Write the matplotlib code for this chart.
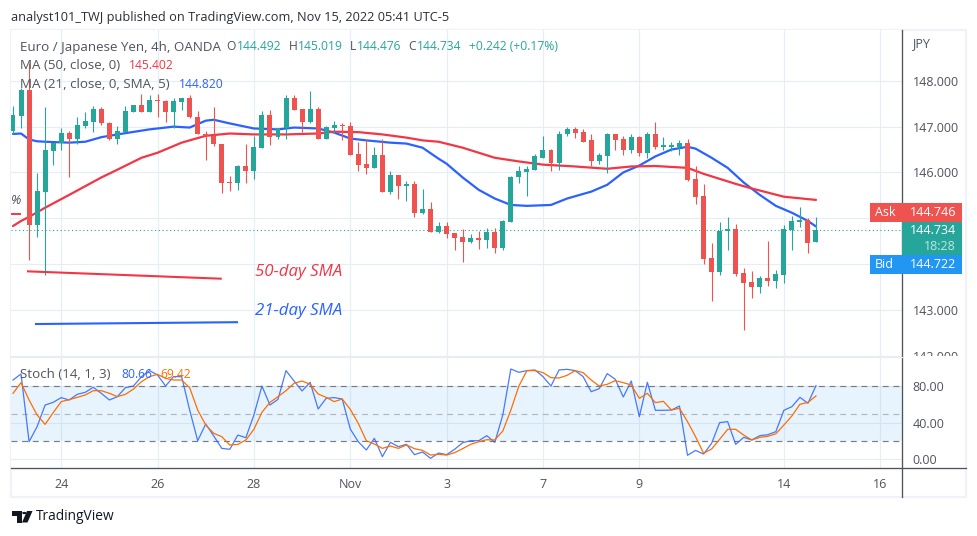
import matplotlib
matplotlib.use('Agg')
from matplotlib import pyplot as plt
from matplotlib.lines import Line2D
from matplotlib.patches import Rectangle, Polygon, Circle
from matplotlib.transforms import Bbox

plt.rcParams['font.family'] = ['Open Sans', 'DejaVu Sans']

# 4h candles
opens = [146.91, 147.24, 147.81, 144.86, 145.58, 146.46, 146.65, 146.87, 146.72, 147.02,
         147.11, 147.39, 147.09, 146.72, 146.89, 147.33, 147.48, 147.33, 147.59, 147.57,
         147.33, 147.53, 147.63, 147.22, 146.85, 146.80, 146.63, 145.80, 145.76, 146.13,
         146.04, 146.54, 147.26, 146.78, 146.96, 147.63, 147.39, 147.11, 147.39, 146.74,
         146.98, 147.04, 147.02, 146.41, 146.19, 146.10, 146.37, 145.58, 145.95, 145.71,
         145.75, 145.12, 145.21, 144.70, 144.83, 144.68, 144.59, 144.48, 144.57, 144.53,
         144.70, 144.35, 144.92, 145.89, 146.02, 146.06, 146.32, 146.50, 146.21, 146.83,
         146.94, 146.89, 146.70, 146.26, 146.35, 146.83, 146.72, 146.50, 146.78, 146.43,
         146.85, 146.56, 146.56, 146.56, 146.65, 145.86, 145.49, 144.13, 143.83, 144.72,
         144.77, 143.80, 143.61, 143.50, 143.70, 143.63, 143.76, 144.75, 144.92, 144.97,
         144.48]
highs = [147.46, 147.85, 148.40, 145.99, 147.42, 146.65, 146.98, 146.91, 147.20, 147.31,
         147.44, 147.42, 147.11, 147.02, 147.46, 147.48, 147.72, 147.70, 147.72, 147.59,
         147.63, 147.63, 147.70, 147.35, 146.91, 147.42, 146.63, 145.93, 146.17, 146.61,
         146.80, 147.35, 147.37, 146.98, 147.68, 147.68, 147.39, 147.77, 147.42, 147.02,
         147.13, 147.09, 147.11, 146.67, 146.74, 146.56, 146.74, 146.04, 145.95, 145.82,
         145.82, 145.64, 145.36, 144.92, 144.92, 144.68, 144.77, 144.66, 144.72, 144.79,
         144.79, 144.97, 145.93, 146.15, 146.15, 146.41, 146.80, 146.52, 146.91, 147.00,
         147.00, 146.94, 146.83, 146.43, 146.87, 146.83, 146.80, 146.83, 146.80, 146.89,
         147.11, 146.78, 146.67, 146.70, 146.74, 146.15, 145.75, 144.46, 144.92, 145.03,
         144.88, 143.91, 143.85, 143.74, 144.51, 143.87, 144.86, 145.05, 145.25, 145.01,
         145.02]
lows = [146.85, 146.98, 144.09, 144.59, 143.76, 146.17, 146.50, 145.91, 146.61, 146.96,
        146.89, 147.04, 146.70, 146.63, 146.89, 147.33, 147.33, 147.33, 147.20, 147.11,
        146.98, 147.37, 147.18, 146.83, 146.28, 146.57, 145.56, 145.60, 145.62, 145.78,
        145.86, 146.54, 146.59, 146.72, 146.74, 147.37, 146.89, 147.09, 146.74, 146.72,
        146.87, 146.70, 146.39, 146.04, 145.97, 146.10, 145.58, 145.53, 145.43, 145.38,
        145.03, 145.10, 144.70, 144.68, 144.57, 144.31, 144.05, 144.46, 144.33, 144.35,
        144.24, 144.31, 144.92, 145.78, 145.49, 146.06, 146.32, 146.04, 146.06, 146.80,
        146.76, 146.67, 146.13, 146.19, 145.99, 146.48, 146.37, 146.43, 146.35, 146.32,
        146.52, 146.50, 146.46, 146.39, 145.82, 145.32, 144.00, 143.20, 143.76, 144.31,
        143.74, 142.56, 143.26, 143.37, 143.52, 143.48, 143.59, 144.31, 144.81, 144.24,
        144.48]
closes = [147.26, 147.81, 144.86, 145.60, 146.48, 146.65, 146.87, 146.72, 147.04, 147.13,
          147.39, 147.07, 146.72, 146.91, 147.35, 147.48, 147.33, 147.59, 147.55, 147.33,
          147.55, 147.63, 147.20, 146.83, 146.80, 146.61, 145.78, 145.76, 146.13, 146.04,
          146.56, 147.26, 146.78, 146.96, 147.63, 147.37, 147.11, 147.39, 146.74, 147.00,
          147.04, 147.02, 146.39, 146.17, 146.10, 146.37, 145.58, 145.95, 145.71, 145.75,
          145.12, 145.21, 144.70, 144.83, 144.66, 144.57, 144.48, 144.57, 144.53, 144.70,
          144.35, 144.94, 145.91, 146.04, 146.08, 146.35, 146.50, 146.21, 146.85, 146.94,
          146.87, 146.67, 146.26, 146.37, 146.83, 146.70, 146.50, 146.78, 146.43, 146.85,
          146.56, 146.59, 146.59, 146.65, 145.84, 145.47, 144.11, 143.83, 144.72, 144.77,
          143.78, 143.59, 143.50, 143.70, 143.63, 143.78, 144.77, 144.94, 144.97, 144.46,
          144.734]

# moving averages, sampled at some bars only
ma21_bars = [0, 1, 2, 3, 4, 7, 9, 11, 13, 17, 20, 22, 24, 25, 27, 30, 33, 35, 38, 40, 42, 44,
             47, 49, 51, 53, 54, 56, 58, 60, 62, 64, 67, 69, 72, 74, 76, 78, 80, 82, 84, 85,
             87, 89, 91, 93, 95, 97, 99, 100]
ma21_vals = [146.84, 146.85, 146.72, 146.68, 146.67, 146.65, 146.67, 146.77, 146.83, 146.94,
             147.00, 146.98, 147.13, 147.15, 147.07, 146.96, 146.94, 146.98, 146.96, 146.87,
             146.74, 146.70, 146.65, 146.63, 146.54, 146.30, 146.19, 145.89, 145.62, 145.43,
             145.29, 145.27, 145.29, 145.43, 145.58, 145.73, 146.00, 146.15, 146.35, 146.50,
             146.56, 146.52, 146.32, 146.10, 145.78, 145.51, 145.27, 145.12, 144.94, 144.82]
ma50_bars = [0, 1, 2, 4, 7, 11, 13, 16, 18, 21, 24, 27, 30, 34, 38, 40, 43, 46, 49, 51, 53, 56,
             60, 63, 66, 70, 74, 77, 80, 84, 86, 88, 90, 92, 94, 96, 100]
ma50_vals = [144.83, 144.94, 145.03, 145.23, 145.51, 145.89, 146.06, 146.32, 146.43, 146.65,
             146.80, 146.85, 146.83, 146.83, 146.85, 146.89, 146.88, 146.83, 146.76, 146.70,
             146.67, 146.54, 146.32, 146.24, 146.17, 146.13, 146.08, 146.13, 146.14, 146.10,
             145.97, 145.86, 145.75, 145.65, 145.56, 145.47, 145.40]

# stochastic
stoch_k = [86.9, 93.5, 19.3, 35.8, 59.5, 62.4, 67.6, 65.0, 71.2, 73.4, 78.9, 72.3, 65.0, 68.7,
           78.5, 80.3, 90.6, 97.2, 92.4, 80.3, 90.6, 90.6, 54.0, 20.4, 38.7, 25.6, 12.0, 11.0,
           26.6, 23.7, 48.6, 80.3, 59.5, 65.7, 97.2, 85.8, 74.9, 84.4, 55.1, 66.8, 67.6, 66.1,
           33.2, 19.3, 10.2, 23.0, 2.9, 18.6, 13.9, 16.4, 5.1, 8.0, 1.1, 6.9, 5.1, 11.0, 18.2,
           20.4, 20.4, 25.9, 18.6, 48.6, 99.0, 95.3, 97.2, 97.9, 90.6, 80.3, 97.9, 98.6, 97.2,
           90.6, 74.1, 77.4, 93.9, 87.7, 68.3, 85.8, 46.7, 84.4, 53.7, 53.7, 54.0, 58.4, 4.4,
           9.8, 5.8, 17.5, 40.2, 41.3, 16.4, 24.1, 21.2, 25.9, 27.0, 30.3, 53.7, 57.7, 67.9,
           61.4, 80.66]
stoch_d = [72.3, 84.0, 65.0, 48.6, 38.3, 51.1, 63.2, 65.4, 67.9, 70.5, 75.2, 75.2, 72.3, 68.7,
           71.2, 77.0, 85.1, 90.6, 93.1, 88.7, 86.9, 86.9, 78.5, 54.0, 37.6, 28.5, 24.8, 15.7,
           16.4, 21.2, 32.9, 51.5, 62.4, 68.7, 75.2, 83.3, 85.8, 82.2, 71.6, 67.9, 63.2, 66.1,
           54.8, 39.4, 20.4, 16.8, 12.0, 14.6, 12.0, 15.7, 11.7, 9.8, 4.7, 5.5, 4.7, 7.3, 11.7,
           16.4, 19.3, 21.5, 21.2, 31.0, 54.0, 80.3, 97.2, 97.2, 95.0, 89.5, 89.1, 92.0, 97.2,
           95.0, 86.9, 80.3, 82.2, 86.2, 84.0, 81.4, 66.8, 72.3, 62.1, 63.5, 54.0, 55.9, 41.3,
           24.8, 6.6, 11.3, 21.9, 32.9, 32.9, 26.6, 21.2, 24.1, 25.2, 28.0, 37.6, 47.5, 60.3,
           62.4, 69.42]

# hand drawn trend lines
line50_bars = [1.87, 25.87]
line50_vals = [143.84, 143.68]
line21_bars = [2.86, 27.9]
line21_vals = [142.69, 142.73]

# 144 and 145 sit behind the Ask/Bid boxes, so they have gridlines but no label
price_ticks = [142, 143, 144, 145, 146, 147, 148]
price_labels = ['142.000', '143.000', '', '', '146.000', '147.000', '148.000']
stoch_ticks = [0, 40, 80]
stoch_labels = ['0.00', '40.00', '80.00']
date_bars = [6, 18, 30, 42, 54, 66, 78, 96, 108]
date_labels = ['24', '26', '28', 'Nov', '3', '7', '9', '14', '16']

last_price = 144.734

W, H = 977, 536
GREEN = '#26a69a'
RED = '#ef5350'
MA_RED = '#f23645'
BLUE = '#2962ff'
ORANGE = '#ff6d00'
GRID = '#e6eef5'
TEXT = '#50535e'
AXIS = '#50535e'
FRAME = '#eff2f6'


def px_rect(left, top, right, bottom):
    return [left / W, 1 - bottom / H, (right - left) / W, (bottom - top) / H]


def label(x, y, s, color=TEXT, size=9.6, ha='left', **kw):
    return fig.text(x / W, 1 - y / H, s, color=color, fontsize=size, ha=ha, va='center', **kw)


def fig_line(x0, y0, x1, y1, color, lw):
    fig.add_artist(Line2D([x0 / W, x1 / W], [1 - y0 / H, 1 - y1 / H], color=color, lw=lw,
                          transform=fig.transFigure, zorder=5))


fig = plt.figure(figsize=(W / 100, H / 100), dpi=100, facecolor='white')

# light frame around the chart
fig.add_artist(Rectangle((10.5 / W, 1 - 497 / H), 955.5 / W, 467 / H, transform=fig.transFigure,
                         fill=False, ec=FRAME, lw=1.6, zorder=0))

price = fig.add_axes(px_rect(11, 30, 901.5, 357), facecolor='white')
stoch = fig.add_axes(px_rect(11, 357, 901.5, 468), facecolor='white')

bars = list(range(len(closes)))

for ax in (price, stoch):
    ax.set_xlim(-0.25, 110.65)
    for spine in ax.spines.values():
        spine.set_visible(False)
    ax.set_xticks(date_bars)
    ax.grid(True, color=GRID, lw=0.85)
    ax.set_axisbelow(True)

# price panel
price.set_ylim(141.97, 149.11)
price.plot(ma21_bars, ma21_vals, color=BLUE, lw=1.6, zorder=2, solid_capstyle='round')
price.plot(ma50_bars, ma50_vals, color=MA_RED, lw=1.6, zorder=2, solid_capstyle='round')
colors = [GREEN if c >= o else RED for o, c in zip(opens, closes)]
price.vlines(bars, lows, highs, colors=colors, lw=0.8, zorder=3)
price.bar(bars, [abs(c - o) for o, c in zip(opens, closes)],
          bottom=[min(o, c) for o, c in zip(opens, closes)],
          width=0.62, color=colors, lw=0, zorder=3)
price.axhline(last_price, color=GREEN, lw=0.8, ls=(0, (1, 2.4)), zorder=2)
price.plot(line50_bars, line50_vals, color=MA_RED, lw=1.5, zorder=4)
price.plot(line21_bars, line21_vals, color=BLUE, lw=1.5, zorder=4)
price.tick_params(axis='x', length=0, labelbottom=False)
price.yaxis.tick_right()
price.set_yticks(price_ticks)
price.set_yticklabels(price_labels)
price.tick_params(axis='y', length=0, pad=8, labelsize=9, labelcolor=TEXT)
# the lowest label gets cut off by the indicator pane
clip = Bbox([[0, H - 356], [W, H]])
for lbl in price.get_yticklabels():
    lbl.set_clip_box(clip)
    lbl.set_clip_on(True)

# stochastic panel
stoch.set_ylim(-9.5, 112.1)
stoch.axhspan(20, 80, color='#2196f3', alpha=0.1, lw=0, zorder=1)
for level, col in ((80, '#787b86'), (50, '#b2b5be'), (20, '#787b86')):
    stoch.axhline(level, color=col, lw=0.85, ls=(0, (5, 4)), zorder=2)
stoch.plot(bars, stoch_k, color=BLUE, lw=0.9, zorder=3, alpha=0.85)
stoch.plot(bars, stoch_d, color=ORANGE, lw=0.9, zorder=4)
stoch.yaxis.tick_right()
stoch.set_yticks(stoch_ticks)
stoch.set_yticklabels(stoch_labels)
stoch.set_xticklabels(date_labels)
stoch.tick_params(axis='y', length=0, pad=8, labelsize=9, labelcolor=TEXT)
stoch.tick_params(axis='x', length=0, pad=7, labelsize=9, labelcolor=TEXT)

# axis lines
fig_line(901.5, 30, 901.5, 497, AXIS, 0.95)
fig_line(11, 468.3, 966, 468.3, AXIS, 0.95)
fig_line(11, 356.8, 901.5, 356.8, GRID, 0.85)

# header and legends
NUM = 8.7
label(11, 17, 'analyst101_TWJ published on TradingView.com, Nov 15, 2022 05:41 UTC-5',
      color='#2a2e39', size=9.15)
label(20, 47, 'Euro / Japanese Yen, 4h, OANDA')
for x, s, col in ((226, 'O', TEXT), (237, '144.492', GREEN), (289, 'H', TEXT), (298, '145.019', GREEN),
                  (350, 'L', TEXT), (357, '144.476', GREEN), (408, 'C', TEXT), (417, '144.734', GREEN),
                  (469, '+0.242 (+0.17%)', GREEN)):
    label(x, 47, s, color=col, size=NUM)
label(20, 65.7, 'MA (50, close, 0)')
label(129, 65.7, '145.402', color=MA_RED, size=NUM)
label(20, 84.3, 'MA (21, close, 0, SMA, 5)')
label(179, 84.3, '144.820', color=BLUE, size=NUM)
label(20, 374.5, 'Stoch (14, 1, 3)')
label(121, 374.5, '80.66', color=BLUE, size=NUM)
label(160, 374.5, '69.42', color=ORANGE, size=NUM)
label(912, 44, 'JPY', size=9)

# annotations on the chart
label(255, 272, '50-day SMA', color=MA_RED, size=12.2, style='italic')
label(255, 311, '21-day SMA', color=BLUE, size=12.2, style='italic')
label(11, 201, '%', size=9.4, style='italic')
fig_line(12, 214, 20, 214, MA_RED, 1.4)

# price scale boxes
for left, top, right, bottom, col in ((869.5, 203, 962, 222, RED), (901.5, 222, 962, 255, GREEN),
                                      (870, 255, 962, 274, '#2196f3')):
    fig.add_artist(Rectangle((left / W, 1 - bottom / H), (right - left) / W, (bottom - top) / H,
                             transform=fig.transFigure, fc=col, ec='none', zorder=6))
for x, y, s, col, ha in ((875, 212.5, 'Ask', 'white', 'left'), (956, 212.5, '144.746', 'white', 'right'),
                         (956, 231, '144.734', 'white', 'right'), (956, 247, '18:28', '#bfe6e1', 'right'),
                         (875, 264.5, 'Bid', 'white', 'left'), (956, 264.5, '144.722', 'white', 'right')):
    label(x, y, s, color=col, size=9, ha=ha, zorder=7)

# TradingView logo
logo = '#131722'
for pts in ([(12, 511), (21.5, 511), (21.5, 522.5), (17, 522.5), (17, 515.5), (12, 515.5)],
            [(27, 511), (32.5, 511), (27.5, 522.5), (22, 522.5)]):
    fig.add_artist(Polygon([(x / W, 1 - y / H) for x, y in pts], transform=fig.transFigure,
                           fc=logo, ec='none'))
fig.add_artist(Circle((24.3 / W, 1 - 513 / H), 0.0022, transform=fig.transFigure, fc=logo, ec='none'))
label(36, 517, 'TradingView', color=logo, size=9.9)

fig.savefig('out.png', dpi=100)
